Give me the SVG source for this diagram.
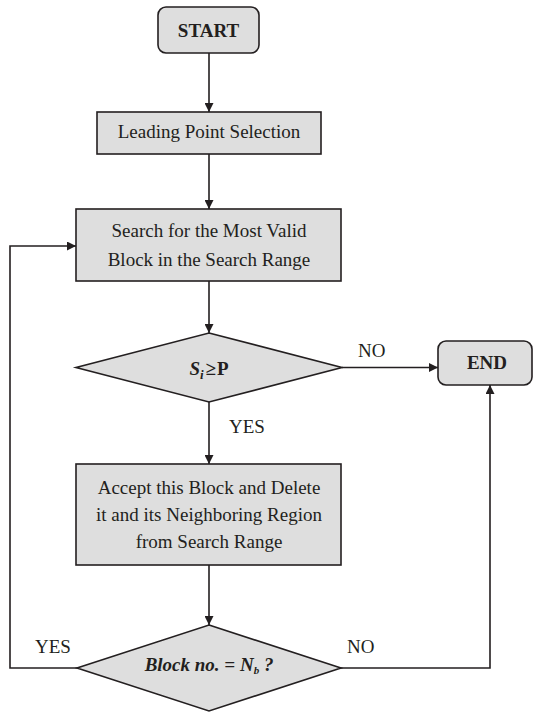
<svg xmlns="http://www.w3.org/2000/svg" width="534" height="712" viewBox="0 0 534 712">
  <style>
    .box { fill: #dedede; stroke: #231f20; stroke-width: 1.6; }
    .txt { font-family: "Liberation Serif", "Times New Roman", serif; font-size: 19px; fill: #231f20; text-anchor: middle; }
    .bold { font-weight: bold; }
    .lbl { font-family: "Liberation Serif", "Times New Roman", serif; font-size: 19px; fill: #231f20; }
    .wire { fill: none; stroke: #231f20; stroke-width: 1.6; }
  </style>
  <defs>
    <marker id="arrow" viewBox="0 0 10 10" refX="10" refY="5" markerWidth="10" markerHeight="9" orient="auto" markerUnits="userSpaceOnUse">
      <path d="M0,0 L10,5 L0,10 z" fill="#231f20"/>
    </marker>
  </defs>
  <rect width="534" height="712" fill="#ffffff"/>

  <g id="start">
    <rect class="box" x="158" y="7" width="101" height="46" rx="8" ry="8"/>
    <text class="txt bold" x="208.5" y="37">START</text>
  </g>

  <g id="leading">
    <rect class="box" x="97" y="112" width="224" height="42"/>
    <text class="txt" x="209" y="138">Leading Point Selection</text>
  </g>

  <g id="search">
    <rect class="box" x="76" y="209" width="265" height="72"/>
    <text class="txt" x="209" y="237">Search for the Most Valid</text>
    <text class="txt" x="209" y="266">Block in the Search Range</text>
  </g>

  <g id="check-score">
    <polygon class="box" points="209,333 342,367.5 209,402 76,367.5"/>
    <text class="txt bold" x="209" y="375"><tspan font-style="italic">S</tspan><tspan font-style="italic" font-size="13" dy="4">i</tspan><tspan dx="2" dy="-4">≥</tspan><tspan dx="1">P</tspan></text>
  </g>

  <g id="end">
    <rect class="box" x="438" y="341" width="94" height="44" rx="8" ry="8"/>
    <text class="txt bold" x="487" y="369">END</text>
  </g>

  <g id="accept">
    <rect class="box" x="76" y="464" width="265" height="101"/>
    <text class="txt" x="209" y="494">Accept this Block and Delete</text>
    <text class="txt" x="209" y="521">it and its Neighboring Region</text>
    <text class="txt" x="209" y="548">from Search Range</text>
  </g>

  <g id="check-count">
    <polygon class="box" points="209,625 341,668 209,711 77,668"/>
    <text class="txt bold" x="209" y="671" font-size="16" font-style="italic">Block no. = N<tspan font-size="11" dy="3">b</tspan><tspan dy="-3"> ?</tspan></text>
  </g>

  <g id="connectors">
    <line class="wire" x1="209" y1="53" x2="209" y2="112" marker-end="url(#arrow)"/>
    <line class="wire" x1="209" y1="154" x2="209" y2="209" marker-end="url(#arrow)"/>
    <line class="wire" x1="209" y1="281" x2="209" y2="333" marker-end="url(#arrow)"/>
    <line class="wire" x1="342" y1="367.5" x2="438" y2="367.5" marker-end="url(#arrow)"/>
    <line class="wire" x1="209" y1="402" x2="209" y2="464" marker-end="url(#arrow)"/>
    <line class="wire" x1="209" y1="565" x2="209" y2="625" marker-end="url(#arrow)"/>
    <polyline class="wire" points="77,668 10,668 10,246 76,246" marker-end="url(#arrow)"/>
    <polyline class="wire" points="341,668 490,668 490,385" marker-end="url(#arrow)"/>
    <text class="lbl" x="358" y="357">NO</text>
    <text class="lbl" x="229" y="433">YES</text>
    <text class="lbl" x="35" y="653">YES</text>
    <text class="lbl" x="347" y="653">NO</text>
  </g>
</svg>
